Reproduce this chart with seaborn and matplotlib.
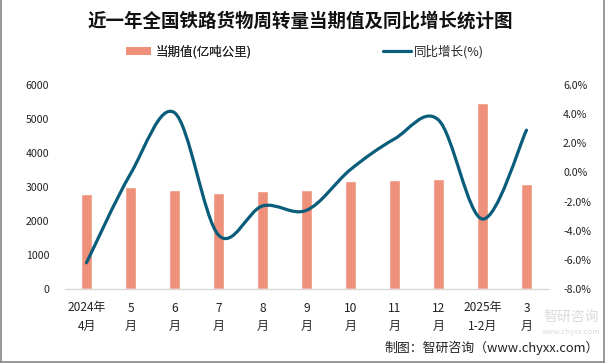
import matplotlib
matplotlib.use("Agg")
import matplotlib.pyplot as plt
from matplotlib.path import Path
from matplotlib.patches import PathPatch, Patch
from matplotlib.lines import Line2D
import seaborn as sns
import pandas as pd
import numpy as np

# ---- data ----
categories = ["2024年\n4月", "5\n月", "6\n月", "7\n月", "8\n月", "9\n月",
              "10\n月", "11\n月", "12\n月", "2025年\n1-2月", "3\n月"]
turnover = [2780, 3000, 2915, 2830, 2880, 2915, 3180, 3205, 3240, 5470, 3090]
growth = [-6.2, -0.1, 4.1, -4.3, -2.3, -2.6, 0.2, 2.3, 3.6, -3.2, 2.9]
left_ticks = [0, 1000, 2000, 3000, 4000, 5000, 6000]
right_ticks = [-8, -6, -4, -2, 0, 2, 4, 6]

title = "近一年全国铁路货物周转量当期值及同比增长统计图"
bar_label = "当期值(亿吨公里)"
line_label = "同比增长(%)"
source = "制图：智研咨询（www.chyxx.com）"

BAR_C = "#EF917A"
LINE_C = "#0A5C7B"

sns.set_theme(style="white")
plt.rcParams["font.family"] = ["Noto Sans CJK SC", "DejaVu Sans"]

W, H = 605, 363
fig = plt.figure(figsize=(W / 100, H / 100), dpi=100)
L, R, T, B = 64.5, 548.5, 85, 289
ax = fig.add_axes([L / W, 1 - B / H, (R - L) / W, (B - T) / H])

df = pd.DataFrame({"cat": categories, "val": turnover})
sns.barplot(data=df, x="cat", y="val", color=BAR_C, width=0.26, ax=ax,
            saturation=1, order=categories)
ax.set_ylim(0, 6000)
ax.set_xlim(-0.5, len(categories) - 0.5)
ax.set_yticks(left_ticks)
ax.set_yticklabels([str(v) for v in left_ticks])
ax.set_xlabel("")
ax.set_ylabel("")
for s in ["top", "right", "left"]:
    ax.spines[s].set_visible(False)
ax.spines["bottom"].set_color("#D9D9D9")
ax.spines["bottom"].set_linewidth(1.0)
ax.tick_params(axis="y", length=0, pad=11, labelsize=7.6, labelcolor="#222222")
ax.tick_params(axis="x", length=0, pad=9, labelsize=8.6, labelcolor="#222222")
for t in ax.get_xticklabels():
    t.set_linespacing(1.55)

ax2 = ax.twinx()
ax2.set_ylim(-8, 6)
ax2.set_yticks(right_ticks)
ax2.set_yticklabels([f"{v:.1f}%" for v in right_ticks])
ax2.tick_params(axis="y", length=0, pad=10.5, labelsize=7.6, labelcolor="#222222")
for s in ["top", "right", "left", "bottom"]:
    ax2.spines[s].set_visible(False)
ax2.grid(False)
ax.grid(False)

# smooth line (Catmull-Rom -> cubic Bezier) through the data points
xs = np.arange(len(growth), dtype=float)
ys = np.array(growth, dtype=float)
P = np.column_stack([xs, ys])
n = len(P)
verts = [tuple(P[0])]
codes = [Path.MOVETO]
for i in range(n - 1):
    p0 = P[i - 1] if i > 0 else P[i]
    p1 = P[i]
    p2 = P[i + 1]
    p3 = P[i + 2] if i + 2 < n else P[i + 1]
    c1 = p1 + (p2 - p0) / 6.0
    c2 = p2 - (p3 - p1) / 6.0
    verts += [tuple(c1), tuple(c2), tuple(p2)]
    codes += [Path.CURVE4] * 3
ax2.add_patch(PathPatch(Path(verts, codes), facecolor="none", edgecolor=LINE_C,
                        lw=2.3, capstyle="round", joinstyle="round"))

# title
fig.text(300 / W, 1 - 21.5 / H, title, ha="center", va="center",
         fontsize=13.3, fontweight="bold", color="#111111")

# legends
fs_leg = 9
leg1 = fig.legend(handles=[Patch(facecolor=BAR_C, edgecolor="none", label=bar_label)],
                  loc="center left", bbox_to_anchor=(126 / W, 1 - 51.5 / H),
                  frameon=False, fontsize=fs_leg, borderpad=0, borderaxespad=0,
                  handlelength=2.0, handleheight=0.55, handletextpad=0.35)
fig.legend(handles=[Line2D([0], [0], color=LINE_C, lw=2.3, label=line_label)],
           loc="center left", bbox_to_anchor=(383 / W, 1 - 51.5 / H),
           frameon=False, fontsize=fs_leg, borderpad=0, borderaxespad=0,
           handlelength=2.2, handletextpad=0.3)
fig.add_artist(leg1)

# watermark (faint, kept clear of the tick labels)
fig.text(571 / W, 1 - 317 / H, "智研咨询", ha="center", va="center",
         fontsize=10, color="#D5D5D5", alpha=0.85, zorder=0)
fig.text(571 / W, 1 - 332 / H, "www.chyxx.com", ha="center", va="center",
         fontsize=5.5, color="#D5D5D5", alpha=0.85, zorder=0)

# source
fig.text(599 / W, 1 - 348 / H, source, ha="right", va="center",
         fontsize=9.3, color="#222222")

# border
fig.add_artist(Line2D([0.5 / W, 0.5 / W], [0, 1], color="#888888", lw=1.2))
fig.add_artist(Line2D([603.5 / W, 603.5 / W], [0, 1], color="#888888", lw=1.2))
fig.add_artist(Line2D([0, 1], [0.8 / H, 0.8 / H], color="#888888", lw=1.2))

fig.savefig("out.png", dpi=100)
